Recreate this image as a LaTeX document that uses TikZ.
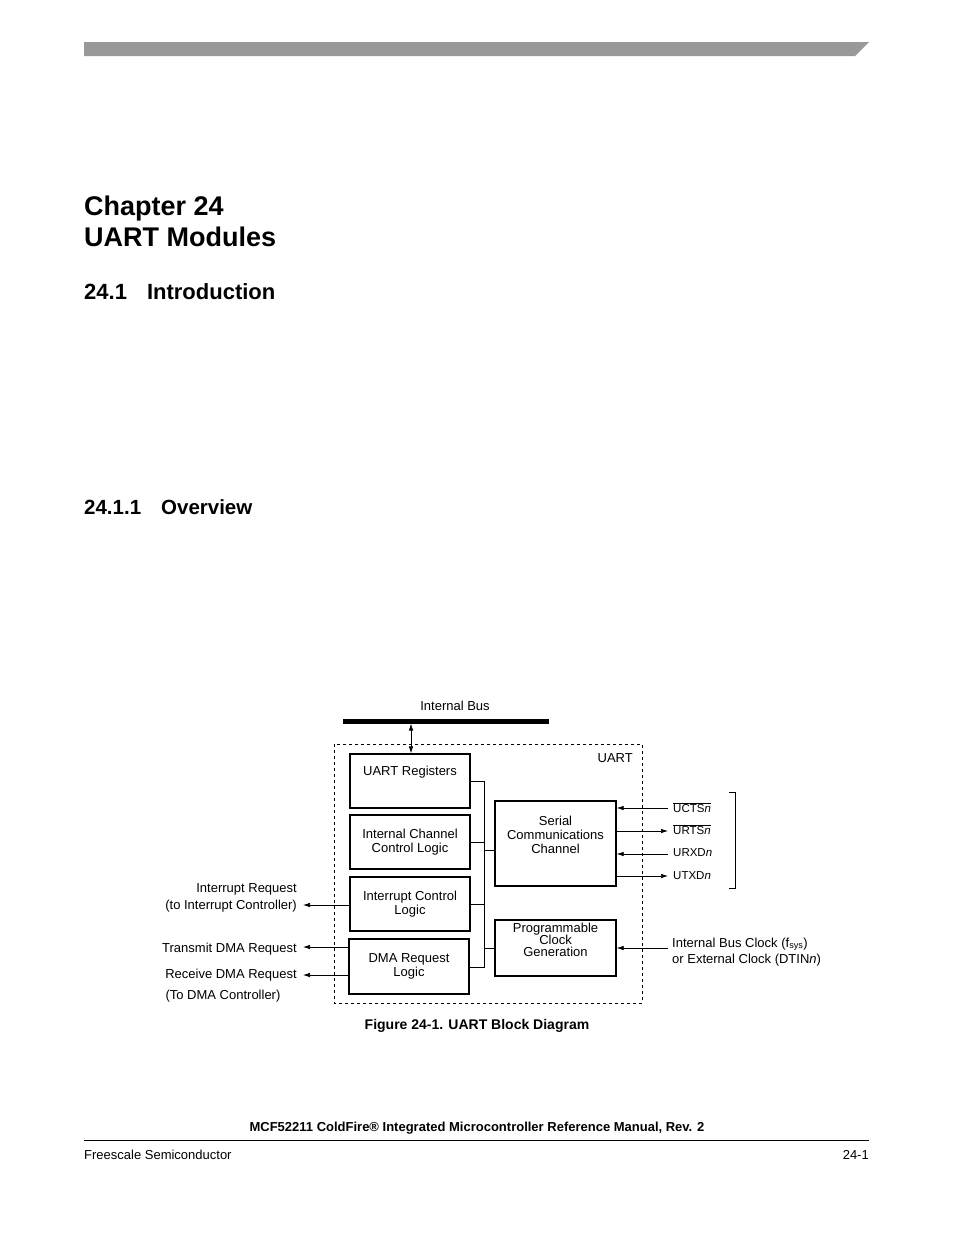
\documentclass[tikz,border=0pt]{standalone}
\usepackage{fontspec}
\setmainfont{Liberation Sans}
\usetikzlibrary{arrows.meta}
\begin{document}
\begin{tikzpicture}[x=1pt,y=-1pt,
  blk/.style={draw,line width=1.3pt,inner sep=0pt,align=center,font=\fontsize{13}{14}\selectfont},
  lbl/.style={inner sep=0pt,font=\fontsize{13}{16.5}\selectfont},
  conn/.style={line width=0.7pt},
  arr/.style={conn,-{Latex[length=7pt,width=4.5pt]}}]
\useasboundingbox (0,0) rectangle (954,1235);
\fill[gray!80] (84,42) -- (869,42) -- (855,56) -- (84,56) -- cycle;
\node[lbl,anchor=base west,font=\bfseries\fontsize{27}{30}\selectfont] (ch) at (84,215) {Chapter 24};
\node[lbl,anchor=base west,font=\bfseries\fontsize{27}{30}\selectfont] (ch2) at (84,246) {UART Modules};
\node[lbl,anchor=base west,font=\bfseries\fontsize{22}{24}\selectfont] (s1) at (84,299) {24.1\hspace{20pt}Introduction};
\node[lbl,anchor=base west,font=\bfseries\fontsize{20.5}{24}\selectfont] (s2) at (84,514) {24.1.1\hspace{20pt}Overview};
% diagram
\node[lbl,anchor=base] (ib) at (455,710) {Internal Bus};
\draw[line width=5pt] (343,721) coordinate (busl) -- (549,721) coordinate (busr);
\draw[dashed,conn] (334,744) rectangle (642,1003);
\node[lbl,anchor=base east] (uart) at (633,762) {UART};
\node[blk,minimum width=120pt,minimum height=54pt] (reg) at (410,781) {UART Registers\\[7pt]};
\node[blk,minimum width=120pt,minimum height=54pt] (icc) at (410,842) {Internal Channel\\Control Logic};
\node[blk,minimum width=120pt,minimum height=54pt] (icl) at (410,904) {Interrupt Control\\Logic};
\node[blk,minimum width=120pt,minimum height=55pt] (dma) at (409,966.5) {DMA Request\\Logic};
\node[blk,minimum width=121pt,minimum height=85pt] (scc) at (555.5,843.5) {Serial\\Communications\\Channel\\[4pt]};
\node[blk,minimum width=121pt,minimum height=56pt] (pcg) at (555.5,948) {Programmable\\[-2pt]Clock\\[-2pt]Generation\\[3pt]};
\draw[conn,{Latex[length=7pt,width=4.5pt]}-{Latex[length=7pt,width=4.5pt]}] (busl -| reg.north) ++(1,2.5) -- (reg.north -| 411,0);
\coordinate (bt) at (484,781); \coordinate (bb) at (484,967);
\draw[conn] (reg.east |- bt) -- (bt) -- (bb) -- (dma.east |- bb);
\draw[conn] (icc.east) -- (icc.east -| bt);
\draw[conn] (icl.east) -- (icl.east -| bt);
\draw[conn] (scc.west |- 0,850) -- (484,850);
\draw[conn] (pcg.west) -- (pcg.west -| bt);
% right signals
\coordinate (r1) at (668,808); \coordinate (r2) at (668,831); \coordinate (r3) at (668,854); \coordinate (r4) at (668,876);
\draw[arr] (r1) -- (r1 -| scc.east);
\draw[arr] (r2 -| scc.east) -- (r2);
\draw[arr] (r3) -- (r3 -| scc.east);
\draw[arr] (r4 -| scc.east) -- (r4);
\node[lbl,anchor=west,font=\fontsize{11.5}{14}\selectfont] (l1) at (673,808) {$\overline{\hbox{UCTS\textit{n}}}$};
\node[lbl,anchor=west,font=\fontsize{11.5}{14}\selectfont] (l2) at (673,830) {$\overline{\hbox{URTS\textit{n}}}$};
\node[lbl,anchor=west,font=\fontsize{11.5}{14}\selectfont] (l3) at (673,853) {URXD\textit{n}};
\node[lbl,anchor=west,font=\fontsize{11.5}{14}\selectfont] (l4) at (673,876) {UTXD\textit{n}};
\draw[conn] (729,792) -- (735,792) -- (735,888) -- (729,888);
\coordinate (ck) at (668,948);
\draw[arr] (ck) -- (pcg.east);
\node[lbl,anchor=west,align=left] (ckl) at (672,952) {Internal Bus Clock (f\textsubscript{sys})\\or External Clock (DTIN\textit{n})};
% left signals
\coordinate (q1) at (303,905); \coordinate (q2) at (303,947); \coordinate (q3) at (303,975);
\draw[arr] (icl.west |- q1) -- (q1);
\draw[arr] (dma.west |- q2) -- (q2);
\draw[arr] (dma.west |- q3) -- (q3);
\node[lbl,anchor=east,align=right] (irq) at (297,898) {Interrupt Request\\(to Interrupt Controller)};
\node[lbl,anchor=base east] (tdr) at (297,952) {Transmit DMA Request};
\node[lbl,anchor=base east] (rdr) at (297,978) {Receive DMA Request};
\node[lbl,anchor=base] (tdc) at (223,999) {(To DMA Controller)};
\node[lbl,anchor=base,font=\bfseries\fontsize{14}{16}\selectfont] (cap) at (477,1029) {Figure 24-1. UART Block Diagram};
% footer
\node[lbl,anchor=base,font=\bfseries\fontsize{13}{16}\selectfont] (ft) at (477,1131) {MCF52211 ColdFire® Integrated Microcontroller Reference Manual, Rev. 2};
\draw[line width=0.6pt] (84,1140) -- (869,1140);
\node[lbl,anchor=base west] (fs) at (84,1159) {Freescale Semiconductor};
\node[lbl,anchor=base east] (pg) at (869,1159) {24-1};
\end{tikzpicture}
\end{document}
